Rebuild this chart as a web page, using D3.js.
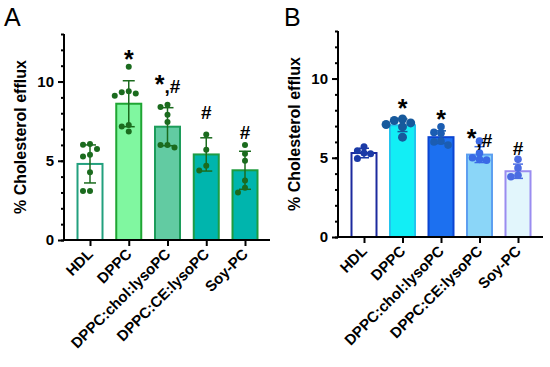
<!DOCTYPE html>
<meta charset="utf-8">
<html>
  <head>
    <script src="https://cdn.jsdelivr.net/npm/d3@7"></script>
    <style>
      body { margin: 0; background: #fff; }
      text { font-family: "Liberation Sans", Arial, sans-serif; }
    </style>
  </head>
  <body>
    <div id="chart"></div>

    <script type="text/javascript">
      var categories = ["HDL", "DPPC", "DPPC:chol:lysoPC", "DPPC:CE:lysoPC", "Soy-PC"];
      var yTicks = [0, 5, 10];

      // panel A
      var meansA = [4.8, 8.6, 7.15, 5.4, 4.4];
      var sdA = [1.2, 1.45, 1.2, 1.05, 1.2];
      var pointsA = [
        [6.06, 6.01, 5.74, 5.38, 5.27, 4.28, 3.1, 3.1],
        [10.93, 9.39, 9.32, 9.24, 9.11, 7.26, 7.17, 6.85],
        [8.54, 8.4, 7.91, 7.45, 6.0, 6.0, 5.84],
        [6.65, 5.7, 4.68, 4.39],
        [6.0, 5.45, 5.0, 3.75, 3.3, 3.0]
      ];
      var marksA = ["", "*", "*,#", "#", "#"];
      var markPosA = [0, 10.85, 9.25, 7.65, 6.35];

      // panel B
      var meansB = [5.3, 7.05, 6.3, 5.2, 4.15];
      var sdB = [0.3, 0.4, 0.4, 0.5, 0.45];
      var pointsB = [
        [5.7, 5.45, 5.3, 5.25, 4.95],
        [7.45, 7.35, 7.2, 7.1, 6.95, 6.3],
        [6.95, 6.6, 6.55, 6.05, 6.0, 5.8],
        [6.05, 5.3, 5.0, 4.9, 4.85],
        [4.9, 4.35, 3.9, 3.8]
      ];
      var marksB = ["", "*", "*", "*,#", "#"];
      var markPosB = [0, 7.6, 6.85, 5.65, 5.15];

      var svg = d3.select("#chart").append("svg")
          .attr("width", 550)
          .attr("height", 367);

      function panel(o) {
        var x = d3.scalePoint().domain(categories).range([o.x0 + 26, o.x1 - 25]);
        var y = d3.scaleLinear().domain([0, 13]).range([o.y0, o.yTop]);
        var g = svg.append("g");

        g.append("text").text(o.letter)
          .attr("x", o.letterX).attr("y", 26)
          .style("font-size", "25px");

        g.append("text").text("% Cholesterol efflux")
          .attr("transform", "translate(" + o.labelX + "," + ((o.y0 + o.yTop) / 2) + ") rotate(-90)")
          .attr("text-anchor", "middle")
          .style("font-size", "16px").style("font-weight", "bold");

        // bars
        var bw = 25;
        g.selectAll(".bar").data(o.means).enter().append("rect")
          .attr("x", function(d, i) { return x(categories[i]) - bw / 2; })
          .attr("y", function(d) { return y(d); })
          .attr("width", bw)
          .attr("height", function(d) { return y(0) - y(d); })
          .style("fill", function(d, i) { return o.fills[i]; })
          .style("stroke", function(d, i) { return o.strokes[i]; })
          .style("stroke-width", 2);

        // error bars
        o.means.forEach(function(m, i) {
          var cx = x(categories[i]), c = o.dots[i];
          var eg = g.append("g").style("stroke", c).style("stroke-width", 1.5);
          eg.append("line").attr("x1", cx).attr("x2", cx).attr("y1", y(m - o.sd[i])).attr("y2", y(m + o.sd[i]));
          [m - o.sd[i], m + o.sd[i]].forEach(function(v) {
            eg.append("line").attr("x1", cx - o.cap).attr("x2", cx + o.cap).attr("y1", y(v)).attr("y2", y(v));
          });
        });

        // dots, simple beeswarm
        o.points.forEach(function(pts, i) {
          var cx = x(categories[i]), r = o.r[i], d = 2 * r * o.spread + 1, placed = [];
          pts.slice().sort(function(a, b) { return b - a; }).forEach(function(v) {
            var py = y(v), offs = [0, -d, d, -2 * d, 2 * d, -3 * d, 3 * d], k;
            for (k = 0; k < offs.length; k++) {
              var ok = placed.every(function(p) {
                return Math.hypot(p[0] - offs[k], p[1] - py) >= 2 * r * o.spread;
              });
              if (ok) break;
            }
            placed.push([offs[Math.min(k, offs.length - 1)], py]);
          });
          g.selectAll(".dot" + i).data(placed).enter().append("circle")
            .attr("cx", function(p) { return cx + p[0]; })
            .attr("cy", function(p) { return p[1]; })
            .attr("r", r)
            .style("fill", o.dots[i]);
        });

        // significance marks, bigger asterisk
        var mk = g.selectAll(".mark").data(o.marks).enter().append("text")
          .attr("x", function(d, i) { return x(categories[i]); })
          .attr("y", function(d, i) { return y(o.markPos[i]); })
          .attr("text-anchor", "middle")
          .style("font-size", "19px").style("font-weight", "bold");
        mk.each(function(d) {
          var t = d3.select(this);
          d.split("").forEach(function(ch) {
            t.append("tspan").text(ch).style("font-size", ch == "*" ? "25px" : "19px");
          });
        });

        // y axis
        var yAxis = g.append("g").attr("transform", "translate(" + o.x0 + ",0)")
          .call(d3.axisLeft(y).tickValues(yTicks).tickSize(6).tickPadding(4));
        yAxis.select(".domain").remove();
        yAxis.selectAll("text").style("font-size", "15px").style("font-weight", "bold")
          .style("font-family", "Liberation Sans, Arial, sans-serif");
        yAxis.selectAll("line").style("stroke-width", 2);
        g.append("g").attr("transform", "translate(" + o.x0 + ",0)")
          .call(d3.axisLeft(y).tickValues(d3.range(0, 14)).tickSize(3).tickFormat(""))
          .call(function(s) { s.select(".domain").remove(); s.selectAll("line").style("stroke-width", 2); });
        g.append("line").attr("x1", o.x0).attr("x2", o.x0).attr("y1", y(0)).attr("y2", y(13))
          .style("stroke", "#000").style("stroke-width", 2);

        // x axis
        var xAxis = g.append("g").attr("transform", "translate(0," + o.y0 + ")")
          .call(d3.axisBottom(x).tickSize(6).tickFormat(""));
        xAxis.select(".domain").remove();
        xAxis.selectAll("line").style("stroke-width", 2);
        g.append("line").attr("x1", o.x0 - 1).attr("x2", o.x1).attr("y1", o.y0).attr("y2", o.y0)
          .style("stroke", "#000").style("stroke-width", 2);
        g.selectAll(".xlab").data(categories).enter().append("text")
          .text(function(d) { return d; })
          .attr("transform", function(d) { return "translate(" + (x(d) + 4) + "," + (o.y0 + 15) + ") rotate(-45)"; })
          .attr("text-anchor", "end")
          .style("font-size", "15px").style("font-weight", "bold");
      }

      panel({
        letter: "A", letterX: 4, labelX: 26,
        x0: 64, x1: 270, y0: 240, yTop: 34,
        means: meansA, sd: sdA, points: pointsA, marks: marksA, markPos: markPosA,
        fills: ["#ffffff", "#80f7a0", "#62cba2", "#00b5ad", "#00b5ad"],
        strokes: ["#22a07e", "#1fa533", "#1c9c5a", "#1d9c45", "#1d9c3e"],
        dots: ["#1b6b1e", "#1b6b1e", "#1b6b1e", "#1b6b1e", "#1b6b1e"],
        r: [3, 3, 3, 3, 3], cap: 6, spread: 1
      });

      panel({
        letter: "B", letterX: 284, labelX: 300,
        x0: 338, x1: 543, y0: 237, yTop: 31,
        means: meansB, sd: sdB, points: pointsB, marks: marksB, markPos: markPosB,
        fills: ["#ffffff", "#12eef5", "#1c70f0", "#8bd6f8", "#e2f6fc"],
        strokes: ["#1c2a9e", "#22c4ee", "#0b45d2", "#5d9ff0", "#9a8cf0"],
        dots: ["#1b3aa6", "#16599c", "#1b5db2", "#3a6ae6", "#4b6ce2"],
        r: [3.5, 4.5, 3.8, 3.8, 3.8], cap: 5, spread: 0.8
      });
    </script>
  </body>
</html>
